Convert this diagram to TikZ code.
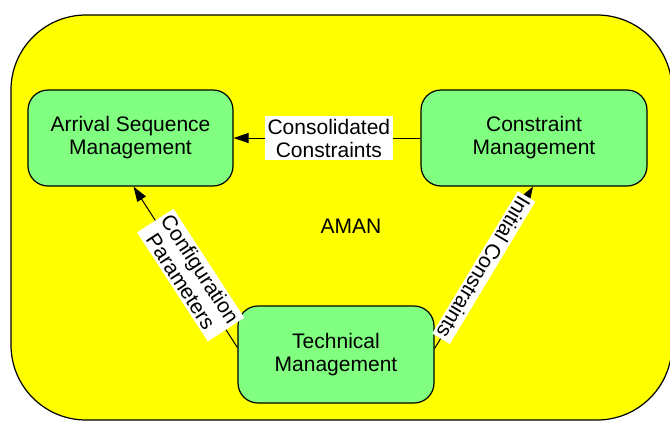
\documentclass[tikz,border=0pt]{standalone}
\usepackage{fontspec}
\setmainfont{Liberation Sans}
\usetikzlibrary{arrows.meta}
\definecolor{boxgreen}{HTML}{80FF80}
\definecolor{amanyellow}{HTML}{FFFF00}
\begin{document}
\begin{tikzpicture}[x=1pt,y=-1pt,
  font=\fontsize{21}{23}\selectfont,
  mbox/.style={draw=black, line width=1.2pt, fill=boxgreen, rounded corners=20pt,
    align=center, inner sep=0pt},
  flow/.style={draw=black, line width=1pt, -{Triangle[length=15pt,width=10pt]}},
  lbl/.style={fill=white, align=center, inner sep=2.5pt}]
\useasboundingbox (0,0) rectangle (670,421);
\clip (0,0) rectangle (670,421);
\draw[line width=1.2pt, fill=amanyellow, rounded corners=75pt] (11,15) rectangle (672,420);
\node[mbox, minimum width=205pt, minimum height=96pt] (asm) at (130.5,138) {Arrival Sequence\\Management};
\node[mbox, minimum width=226pt, minimum height=96pt] (cm) at (534,138) {Constraint\\Management};
\node[mbox, minimum width=196pt, minimum height=97pt] (tm) at (336,354.5) {Technical\\Management};
\node (aman) at (351,226) {AMAN};
\draw[flow] (cm.west) -- node[lbl, pos=0.49] {Consolidated\\Constraints} (asm.east);
\draw[flow] ([yshift=7pt]tm.west) -- node[lbl, pos=0.45, rotate=-57] {Configuration\\Parameters} ([xshift=3pt]asm.south);
\draw[flow] ([yshift=6pt]tm.east) -- node[lbl, pos=0.5, rotate=-121] {Initial Constraints} ([xshift=-1pt]cm.south);
\end{tikzpicture}
\end{document}
